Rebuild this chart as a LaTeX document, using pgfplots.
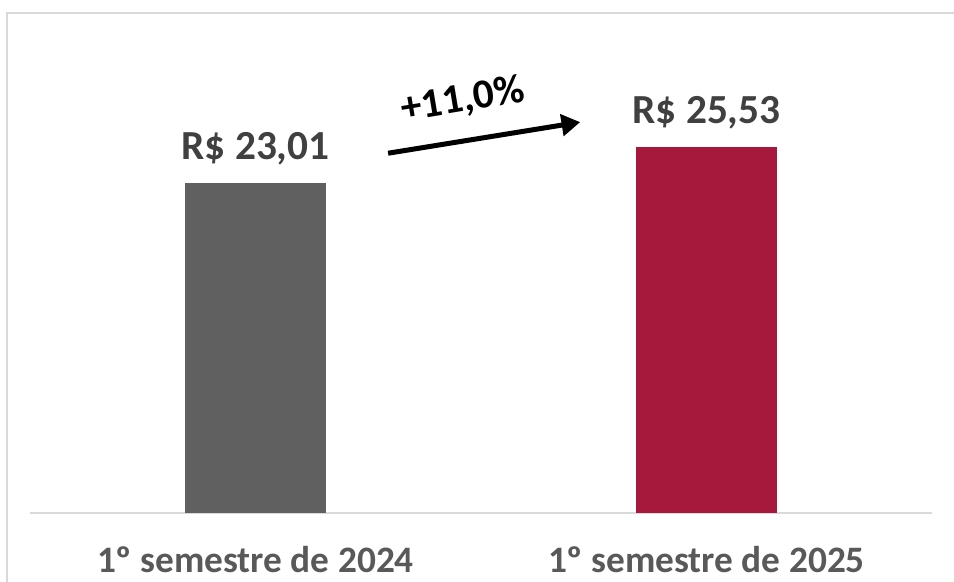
\documentclass[border=0pt]{standalone}
\usepackage{fontspec}
\setmainfont{Carlito}
\usepackage{pgfplots}
\pgfplotsset{compat=1.18}
\usetikzlibrary{arrows.meta}
\definecolor{barGray}{HTML}{606060}
\definecolor{barRed}{HTML}{A6193C}
\definecolor{txtGray}{HTML}{595959}
\definecolor{valGray}{HTML}{404040}
\definecolor{frameGray}{HTML}{D9D9D9}

\begin{document}
\begin{tikzpicture}
\useasboundingbox (0,0) rectangle (715.5pt,436.5pt);
% moldura cortada (so a esquerda e o topo aparecem)
\draw[frameGray, line width=1.5pt] (5.25pt,-20pt) -- (5.25pt,426.75pt) -- (740pt,426.75pt);
\begin{axis}[
  at={(22.5pt,51.75pt)}, anchor=south west,
  scale only axis, width=676.5pt, height=354.75pt,
  xmin=-0.5, xmax=1.5, ymin=0, ymax=33,
  axis x line*=bottom, axis y line=none,
  x axis line style={frameGray, line width=1pt},
  xtick={0,1}, major tick length=0pt,
  xticklabels={1º semestre de 2024, 1º semestre de 2025},
  xticklabel style={font=\fontsize{28}{30}\selectfont\bfseries, text=txtGray, anchor=base, yshift=-44.5pt},
  ytick=\empty,
  ybar, bar width=105.75pt, bar shift=0pt,
  nodes near coords, point meta=explicit symbolic,
  every node near coord/.append style={font=\fontsize{31}{33}\selectfont\bfseries, text=valGray, anchor=base, yshift=18pt},
  clip=false,
]
\addplot[fill=barGray, draw=none] table[meta=lab] {
x y lab
0 23.01 {R\$ 23,01}
};
\addplot[fill=barRed, draw=none] table[meta=lab] {
x y lab
1 25.53 {R\$ 25,53}
};
\draw[line width=3.75pt, -{Triangle[length=14pt,width=16pt]}] (axis cs:0.294,25.1) -- (axis cs:0.72,27.27);
\node[rotate=9.5, font=\fontsize{31}{33}\selectfont\bfseries] at (axis cs:0.46,28.8) {+11,0\%};
\end{axis}
\end{tikzpicture}
\end{document}
